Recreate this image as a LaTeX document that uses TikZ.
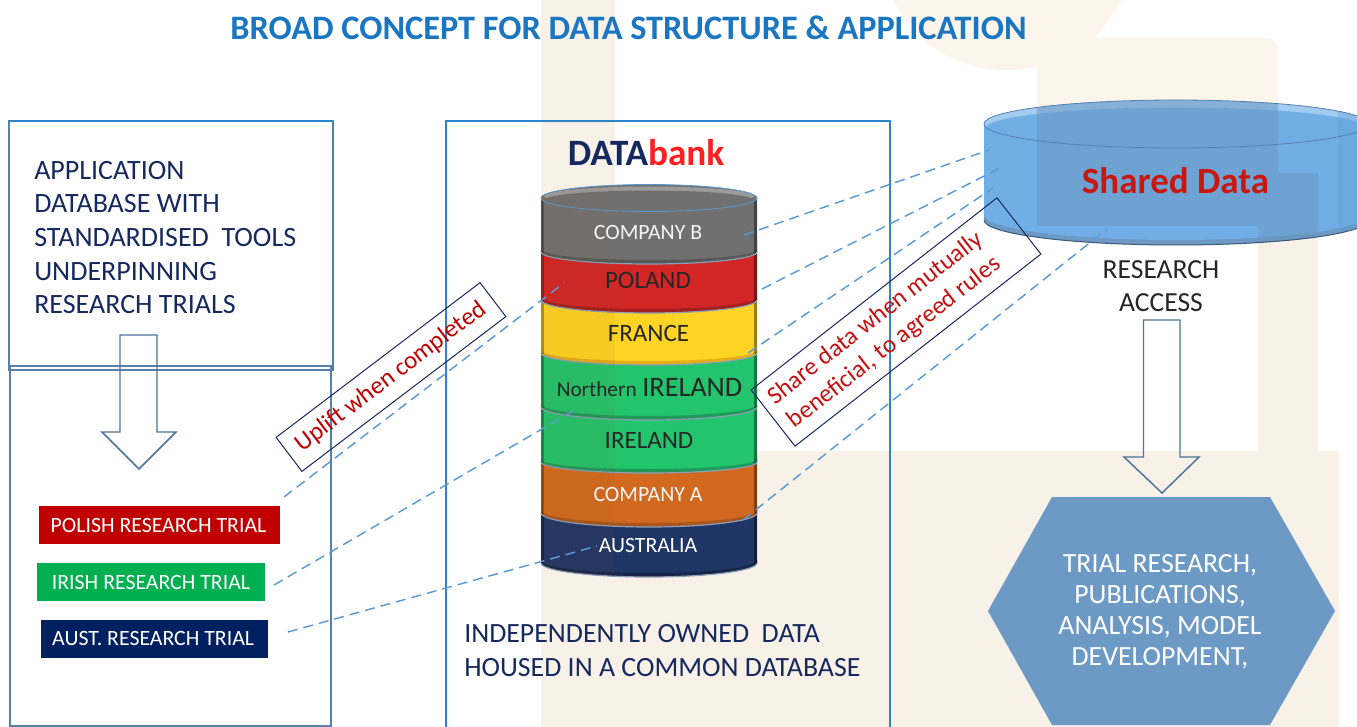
\documentclass[tikz,border=0pt]{standalone}
\usepackage{fontspec}
\setmainfont{Carlito}
\newcommand{\pxl}[2]{\fontsize{\the\dimexpr#1pt*3/4\relax}{\the\dimexpr#2pt*3/4\relax}\selectfont}
\definecolor{wm}{HTML}{F8F1E8}
\definecolor{wmtop}{HTML}{FBF5EC}
\definecolor{titleblue}{HTML}{1A76C0}
\definecolor{boxblue}{HTML}{5580AC}
\definecolor{midblue}{HTML}{2A86CC}
\definecolor{dashblue}{HTML}{5B9BD5}
\definecolor{navy}{HTML}{16295F}
\definecolor{tagred}{HTML}{C41010}
\definecolor{edgeblue}{HTML}{8A9FB8}
\definecolor{cyl}{HTML}{72AEE6}
\definecolor{trialred}{HTML}{C00000}
\definecolor{trialgreen}{HTML}{00B050}
\definecolor{trialnavy}{HTML}{002060}
\definecolor{hexblue}{HTML}{6C9AC5}
\definecolor{tint}{HTML}{6A98C0}
\definecolor{lnavy}{HTML}{1F3566}
\definecolor{lnavyd}{HTML}{182649}
\definecolor{lor}{HTML}{D2691E}
\definecolor{lord}{HTML}{A9551C}
\definecolor{lg}{HTML}{22C46C}
\definecolor{lgd}{HTML}{20995A}
\definecolor{ly}{HTML}{FFD424}
\definecolor{lyd}{HTML}{E3AE18}
\definecolor{lr}{HTML}{D22626}
\definecolor{lrd}{HTML}{A01F1F}
\definecolor{lgy}{HTML}{707070}
\definecolor{lgyd}{HTML}{585858}
\tikzset{
  link/.style={draw=dashblue,line width=1.1pt,dash pattern=on 7.5pt off 4.5pt},
  frame/.style={draw=boxblue,line width=1.1pt},
  arrowout/.style={draw=boxblue!90!black,line width=1.1pt,line join=miter},
  tagbox/.style={draw=navy,line width=.75pt,inner sep=0pt,align=center,text=tagred},
  trial/.style={text=white,inner sep=0pt,font=\pxl{21.8}{24}},
  stacktext/.style={inner sep=0pt,font=\pxl{25}{28}},
}
% layer: colour, bevel colour, top y, side bottom y, centre bottom y
\newcommand{\layer}[5]{%
  \fill[#1] (541,#3) -- (541,#4) .. controls (541,{#4+.55*(#5-#4)}) and (590,#5) .. (649,#5) .. controls (708,#5) and (757,{#4+.55*(#5-#4)}) .. (757,#4) -- (757,#3) -- cycle;
  \fill[#2] (541,#4) .. controls (541,{#4+.55*(#5-#4)}) and (590,#5) .. (649,#5) .. controls (708,#5) and (757,{#4+.55*(#5-#4)}) .. (757,#4) -- (757,{#4-3}) .. controls (757,{#4-3+.55*(#5-#4)}) and (708,{#5-4}) .. (649,{#5-4}) .. controls (590,{#5-4}) and (541,{#4-3+.55*(#5-#4)}) .. (541,{#4-3}) -- cycle;
  \fill[black,opacity=.3] (541,#3) rectangle (544,{#4+1});
  \fill[black,opacity=.4] (754,#3) rectangle (757,{#4+1});
  \draw[edgeblue,line width=.9pt] (541,#4) .. controls (541,{#4+.55*(#5-#4)}) and (590,#5) .. (649,#5) .. controls (708,#5) and (757,{#4+.55*(#5-#4)}) .. (757,#4);
}
\begin{document}
\begin{tikzpicture}[x=.75pt,y=-.75pt]
\useasboundingbox (0,0) rectangle (1357,727);
\clip (0,0) rectangle (1357,727);
% watermark
\fill[wm] (541,0) rectangle (615,727);
\fill[wm] (541,451) rectangle (1339,727);
\fill[wm] (1258,173) rectangle (1318,451);
\fill[wmtop] (894,0) .. controls (915,45) and (960,70) .. (1005,70) .. controls (1015,70) and (1027,69) .. (1037,67) -- (1037,215) .. controls (1037,222) and (1041,226) .. (1048,226) -- (1268,226) .. controls (1274,226) and (1278,222) .. (1278,215) -- (1278,50) .. controls (1278,43) and (1273,38) .. (1266,38) -- (1095,38) -- (1123,0) -- cycle;
% frames
\draw[frame] (10,366) rectangle (331,726);
\draw[frame] (9,121) rectangle (333,370);
\draw[midblue,line width=1.1pt] (446,727) -- (446,121) -- (890,121) -- (890,727);
\draw[frame,draw=midblue] (9,121) -- (333,121);
% title
\node[inner sep=0pt,text=titleblue,font=\pxl{34.3}{40}\bfseries] (title) at (628.5,28) {BROAD CONCEPT FOR DATA STRUCTURE \& APPLICATION};
% left texts
\node[anchor=west,inner sep=0pt,align=left,text=navy,font=\pxl{28}{33.6}] (apptext) at (34,237.5) {APPLICATION\\DATABASE WITH\\STANDARDISED~ TOOLS\\UNDERPINNING\\RESEARCH TRIALS};
% left arrow
\draw[arrowout] (120,335) -- (157,335) -- (157,432) -- (176,432) -- (139,469) -- (102,432) -- (120,432) -- cycle;
% trials
\node[trial,fill=trialred,minimum width=181pt,minimum height=28.5pt] (polish) at (159.5,525) {POLISH RESEARCH TRIAL\hspace*{1.5pt}};
\node[trial,fill=trialgreen,minimum width=171pt,minimum height=28.5pt] (irish) at (151,582) {IRISH RESEARCH TRIAL};
\node[trial,fill=trialnavy,minimum width=170.25pt,minimum height=28.5pt] (aust) at (154.5,639) {AUST. RESEARCH TRIAL\hspace*{2pt}};
% stack
\layer{lnavy}{lnavyd}{505}{563}{577}
\layer{lor}{lord}{455}{513}{527}
\layer{lg}{lgd}{400}{462}{473}
\layer{lg}{lgd}{345}{407}{420}
\layer{ly}{lyd}{292}{353}{365}
\layer{lr}{lrd}{240}{300}{313}
\layer{lgy}{lgyd}{198}{252}{264}
\fill[lgy] (649,198) ellipse [x radius=108,y radius=13.5];
\fill[lgy!70!white] (649,196) ellipse [x radius=105,y radius=9.5];
\fill[lgy] (649,200) ellipse [x radius=104,y radius=9.5];
\draw[dashblue,line width=.6pt] (649,198) ellipse [x radius=108,y radius=13.5];
% darker watermark tint on the stack
\begin{scope}
\clip (541,198) -- (541,563) .. controls (541,571) and (590,577) .. (649,577) -- (649,185) .. controls (590,185) and (541,190) .. (541,198) -- cycle;
\fill[brown!70!black,opacity=.07] (541,180) rectangle (615,580);
\end{scope}
% big cylinder
\fill[cyl] (984,124) -- (984,220) .. controls (984,233.8) and (1070,245) .. (1176,245) .. controls (1282,245) and (1368,233.8) .. (1368,220) -- (1368,124) -- cycle;
\fill[hexblue] (984,220) .. controls (984,233.8) and (1070,245) .. (1176,245) .. controls (1282,245) and (1368,233.8) .. (1368,220) -- (1368,215) .. controls (1368,229) and (1282,240) .. (1176,240) .. controls (1070,240) and (984,229) .. (984,215) -- cycle;
\fill[cyl!65!white] (1176,124) ellipse [x radius=192,y radius=24];
\fill[cyl] (1176,128) ellipse [x radius=190,y radius=20.5];
\begin{scope}
\clip (984,124) -- (984,220) .. controls (984,233.8) and (1070,245) .. (1176,245) .. controls (1282,245) and (1368,233.8) .. (1368,220) -- (1368,124) .. controls (1368,110) and (1282,100) .. (1176,100) .. controls (1070,100) and (984,110) .. (984,124) -- cycle;
\fill[tint,opacity=.5] (1037,90) rectangle (1278,226);
\fill[tint,opacity=.5] (1278,173) rectangle (1318,250);
\fill[tint,opacity=.5] (1258,226) rectangle (1278,250);
\fill[dashblue,opacity=.3] (1338,90) rectangle (1368,250);
\end{scope}
\draw[boxblue,line width=.6pt] (1176,124) ellipse [x radius=192,y radius=24];
\draw[boxblue!70!black,line width=.75pt] (984,220) .. controls (984,233.8) and (1070,245) .. (1176,245) .. controls (1282,245) and (1368,233.8) .. (1368,220);
% stack labels
\node[stacktext,text=white!92!gray,font=\pxl{21.8}{26}] (compb) at (648,232.5) {COMPANY B};
\node[stacktext,text=black!85] (poland) at (648,280.5) {POLAND};
\node[stacktext,text=black!85] (france) at (648.5,333.5) {FRANCE};
\node[stacktext,text=black!85] (nire) at (649.5,388) {{\pxl{21.3}{24}Northern} {\pxl{28.2}{28}IRELAND}};
\node[stacktext,text=black!85] (ire) at (649,440.5) {IRELAND};
\node[stacktext,text=white!92!gray,font=\pxl{21.8}{26}] (compa) at (648,494.5) {COMPANY A};
\node[stacktext,text=white,font=\pxl{21.8}{26}] (austr) at (648,545.5) {AUSTRALIA};
% headings
\node[inner sep=0pt,font=\pxl{37.2}{40}\bfseries] (databank) at (646,153) {\textcolor{navy}{DATA}\textcolor{red!88!white}{bank}};
\node[inner sep=0pt,text={rgb,255:red,200;green,23;blue,15},font=\pxl{37}{40}\bfseries] (shared) at (1175.5,181) {Shared Data};
\node[inner sep=0pt,align=center,text=black!85,font=\pxl{27.6}{33}] (research) at (1161,286) {RESEARCH\\ACCESS};
\node[anchor=west,inner sep=0pt,align=left,text=navy,font=\pxl{27.85}{34}] (indep) at (464,651) {INDEPENDENTLY OWNED~ DATA\\HOUSED IN A COMMON DATABASE};
% right arrow
\draw[arrowout] (1143.5,320) -- (1180,320) -- (1180,457) -- (1199,457) -- (1162,493) -- (1124,457) -- (1143.5,457) -- cycle;
% hexagon
\fill[hexblue] (988,611) -- (1052,497) -- (1270,497) -- (1335,611) -- (1270,725) -- (1052,725) -- cycle;
\node[inner sep=0pt,align=center,text=white!92!wm,font=\pxl{27.8}{31}] (hex) at (1160,612) {TRIAL RESEARCH,\\PUBLICATIONS,\\ANALYSIS, MODEL\\DEVELOPMENT,};
% tag boxes
\node[tagbox,rotate=37.2,minimum width=192pt,minimum height=32pt,text=trialred,font=\pxl{25}{30}] (uplift) at (391,377) {Uplift when completed};
\node[tagbox,rotate=38,minimum width=234pt,minimum height=53.5pt,font=\pxl{25}{30.5}] (sharetag) at (896,322) {Share data when mutually\hspace*{21pt}\\beneficial, to agreed rules\hspace*{21pt}};
% connector ends
\coordinate (p1) at (284,497); \coordinate (p2) at (564,283);
\coordinate (i1) at (274,585); \coordinate (i2) at (578,408);
\coordinate (a1) at (288,632); \coordinate (a2) at (597,546);
\coordinate (b1) at (744,235); \coordinate (b2) at (989,150);
\coordinate (r1) at (762,289); \coordinate (r2) at (1000,168);
\coordinate (y1) at (748,353); \coordinate (y2) at (993,188);
\coordinate (o1) at (743,520); \coordinate (o2) at (1107,229);
\draw[link] (p1) -- (p2);
\draw[link] (i1) -- (i2);
\draw[link] (a1) -- (a2);
\draw[link] (b1) -- (b2);
\draw[link] (r1) -- (r2);
\draw[link] (y1) -- (y2);
\draw[link] (o1) -- (o2);
\end{tikzpicture}
\end{document}
